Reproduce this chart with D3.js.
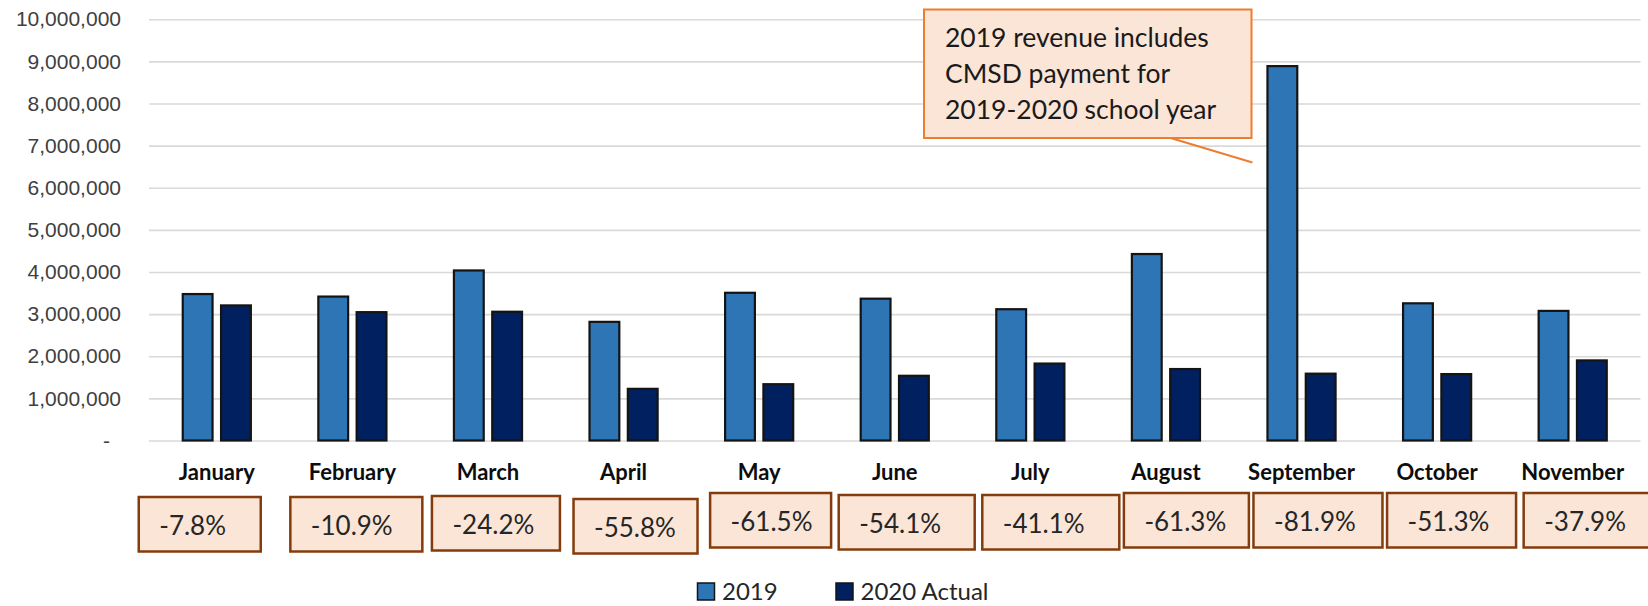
<!DOCTYPE html>
<html>
<head>
<meta charset="utf-8">
<script src="https://cdn.jsdelivr.net/npm/d3@7"></script>
<style>
  body { margin: 0; background: #fff; }
  svg { display: block; font-family: Lato, "Open Sans", sans-serif; }
</style>
</head>
<body>
<script>
// data
var months = ['January', 'February', 'March', 'April', 'May', 'June', 'July',
  'August', 'September', 'October', 'November'];
var series = ['2019', '2020 Actual'];
var rev2019 = [3500000, 3440000, 4060000, 2840000, 3530000, 3390000, 3140000,
  4450000, 8910000, 3280000, 3100000];
var rev2020 = [3230000, 3070000, 3080000, 1250000, 1360000, 1560000, 1850000,
  1720000, 1610000, 1600000, 1925000];
var changes = ['-7.8%', '-10.9%', '-24.2%', '-55.8%', '-61.5%', '-54.1%', '-41.1%',
  '-61.3%', '-81.9%', '-51.3%', '-37.9%'];
var yTicks = [0, 1000000, 2000000, 3000000, 4000000, 5000000, 6000000, 7000000,
  8000000, 9000000, 10000000];
var note = ['2019 revenue includes', 'CMSD payment for', '2019-2020 school year'];

var width = 1648;
var height = 606;
var colors = ['#2e75b6', '#002060'];

// hand placed text boxes under the months (offset from group, width, top)
var boxDx = [-43, -27, -21, -15, -14, -21, -13, -7, -13, -15, -14];
var boxW = [122, 132, 128, 124, 121, 136, 137, 125, 129, 129, 132];
var boxTop = [497, 497, 496, 499, 493, 495, 495, 493, 493, 493, 493];

var svg = d3.select('body')
  .append('svg')
  .attr('width', width)
  .attr('height', height);

var x0 = d3.scaleBand()
  .domain(months)
  .range([149, 1640.5])
  .paddingInner(0.483)
  .paddingOuter(0.2415);

var x1 = d3.scaleBand()
  .domain(series)
  .range([0, x0.bandwidth()])
  .paddingInner(0.17);

var y = d3.scaleLinear()
  .domain([0, 10000000])
  .range([440.5, 19.2]);

// gridlines + y labels
var yAxis = svg.append('g')
  .attr('transform', 'translate(149,0)')
  .call(d3.axisLeft(y)
    .tickValues(yTicks)
    .tickSize(-1491.5)
    .tickPadding(28)
    .tickFormat(function(d) { return d === 0 ? '-' : d3.format(',')(d); }));

yAxis.select('.domain').remove();
yAxis.selectAll('line')
  .attr('stroke', '#d9d9d9')
  .attr('stroke-width', 1.6);
yAxis.selectAll('text')
  .attr('fill', '#404040')
  .style('font-size', '21px')
  .filter(function(d) { return d === 0; })
  .attr('x', -39);

var rows = months.map(function(m, i) {
  return { month: m, values: [rev2019[i], rev2020[i]] };
});

var groups = svg.append('g')
  .selectAll('g')
  .data(rows)
  .enter()
  .append('g')
  .attr('transform', function(d) { return 'translate(' + x0(d.month) + ',0)'; });

groups.selectAll('rect')
  .data(function(d) {
    return d.values.map(function(v, j) { return { key: series[j], value: v, idx: j }; });
  })
  .enter()
  .append('rect')
  .attr('x', function(d) { return x1(d.key) + 1; })
  .attr('y', function(d) { return y(d.value) + 1; })
  .attr('width', x1.bandwidth() - 2)
  .attr('height', function(d) { return y(0) - y(d.value) - 1; })
  .attr('fill', function(d) { return colors[d.idx]; })
  .attr('stroke', '#141414')
  .attr('stroke-width', 2.2);

// month labels
svg.append('g')
  .selectAll('text')
  .data(months)
  .enter()
  .append('text')
  .attr('x', function(d) { return x0(d) + x0.bandwidth() / 2; })
  .attr('y', 480)
  .attr('text-anchor', 'middle')
  .attr('font-weight', 'bold')
  .attr('fill', '#0d0d0d')
  .style('font-size', '22px')
  .text(function(d) { return d; });

// change boxes
var boxes = svg.append('g')
  .selectAll('g')
  .data(changes)
  .enter()
  .append('g')
  .attr('transform', function(d, i) {
    return 'translate(' + (x0(months[i]) + boxDx[i]) + ',' + boxTop[i] + ')';
  });

boxes.append('rect')
  .attr('width', function(d, i) { return boxW[i]; })
  .attr('height', 54.5)
  .attr('fill', '#fbe5d6')
  .attr('stroke', '#843c0c')
  .attr('stroke-width', 2.5);

boxes.append('text')
  .attr('x', 20.5)
  .attr('y', 38)
  .attr('fill', '#262626')
  .style('font-size', '26px')
  .text(function(d) { return d; });

// callout on September
var sepX = x0('September') + x1('2019');
svg.append('line')
  .attr('x1', 1153)
  .attr('y1', 132.7)
  .attr('x2', sepX - 14)
  .attr('y2', y(6600000))
  .attr('stroke', '#ed7d31')
  .attr('stroke-width', 2);

svg.append('rect')
  .attr('x', 924)
  .attr('y', 9.5)
  .attr('width', 327.5)
  .attr('height', 128.5)
  .attr('fill', '#fbe5d6')
  .attr('stroke', '#ed7d31')
  .attr('stroke-width', 2);

svg.append('g')
  .selectAll('text')
  .data(note)
  .enter()
  .append('text')
  .attr('x', 945)
  .attr('y', function(d, i) { return 46.7 + i * 36.2; })
  .attr('fill', '#1a1a1a')
  .style('font-size', '26.5px')
  .text(function(d) { return d; });

// legend
const legendBox = 17;
var legend = svg.append('g')
  .selectAll('g')
  .data(series)
  .enter()
  .append('g')
  .attr('transform', function(d, i) { return 'translate(' + (697.5 + i * 138.5) + ',583)'; });

legend.append('rect')
  .attr('width', legendBox)
  .attr('height', legendBox)
  .attr('fill', function(d, i) { return colors[i]; })
  .attr('stroke', '#141414')
  .attr('stroke-width', 1.5);

legend.append('text')
  .attr('x', legendBox + 7.5)
  .attr('y', 16.5)
  .attr('fill', '#262626')
  .style('font-size', '24px')
  .text(function(d) { return d; });
</script>
</body>
</html>
